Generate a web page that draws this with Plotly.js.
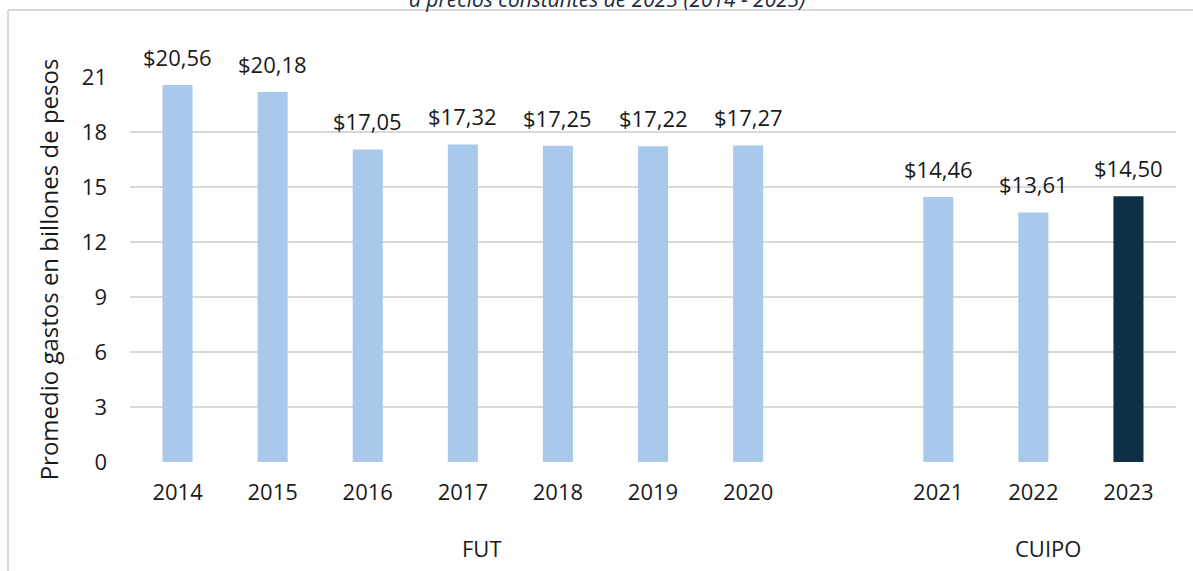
<!DOCTYPE html>
<html>
<head>
<meta charset="utf-8">
<script src="https://cdn.plot.ly/plotly-3.0.1.min.js"></script>
<style>
  html, body { margin: 0; padding: 0; background: #ffffff; }
  #chart { width: 1193px; height: 571px; }
</style>
</head>
<body>
<div id="chart"></div>
<script>
// ---- Data ----
const years = ["2014", "2015", "2016", "2017", "2018", "2019", "2020", "2021", "2022", "2023"];
const slots = [0, 1, 2, 3, 4, 5, 6, 8, 9, 10];          // category slots (slot 7 left empty between groups)
const gasto = [20.56, 20.18, 17.05, 17.32, 17.25, 17.22, 17.27, 14.46, 13.61, 14.50];
const barColors = ["#a8c9eb", "#a8c9eb", "#a8c9eb", "#a8c9eb", "#a8c9eb", "#a8c9eb", "#a8c9eb", "#a8c9eb", "#a8c9eb", "#0e3044"];
const groups = ["FUT", "CUIPO"];
const groupPos = [3.2, 9.15];
const yTicks = [0, 3, 6, 9, 12, 15, 18, 21];

const FONT = "'Open Sans', 'Liberation Sans', Arial, sans-serif";
const fmt = v => "$" + v.toFixed(2).replace(".", ",");

const trace = {
  type: "bar",
  x: slots,
  y: gasto,
  width: 0.316,
  marker: { color: barColors },
  hoverinfo: "skip",
  cliponaxis: false
};

const annotations = [];
gasto.forEach((v, i) => {
  annotations.push({
    x: slots[i], y: v, xref: "x", yref: "y",
    text: fmt(v), showarrow: false,
    yanchor: "bottom", yshift: 11,
    font: { family: FONT, size: 22, color: "#1a1a1a" }
  });
});
groups.forEach((g, i) => {
  annotations.push({
    x: groupPos[i], y: -0.2234, xref: "x", yref: "paper",
    text: g, showarrow: false, yanchor: "middle",
    font: { family: FONT, size: 22, color: "#1a1a1a" }
  });
});
// cut-off title at top
annotations.push({
  x: (607 - 130) / 1046, y: (462 - (-1)) / 385, xref: "paper", yref: "paper",
  text: "<i>a precios constantes de 2023 (2014 - 2023)</i>", showarrow: false,
  yanchor: "middle", xanchor: "center",
  font: { family: FONT, size: 21, color: "#1b2b3c" }
});

const layout = {
  width: 1193,
  height: 571,
  margin: { l: 130, r: 17, t: 77, b: 109 },
  paper_bgcolor: "#ffffff",
  plot_bgcolor: "#ffffff",
  showlegend: false,
  xaxis: {
    range: [-0.5, 10.5],
    tickvals: slots,
    ticktext: years,
    showgrid: false,
    zeroline: false,
    showline: false,
    ticks: "",
    ticklabelstandoff: 15,
    tickfont: { family: FONT, size: 22, color: "#1a1a1a" },
    fixedrange: true
  },
  yaxis: {
    range: [0, 21],
    tickvals: yTicks,
    showgrid: true,
    gridcolor: "#d9d9d9",
    gridwidth: 2,
    zeroline: false,
    showline: false,
    ticks: "",
    ticklabelstandoff: 22,
    tickfont: { family: FONT, size: 22, color: "#1a1a1a" },
    title: { text: "Promedio gastos en billones de pesos", standoff: 16,
             font: { family: FONT, size: 24, color: "#1a1a1a" } },
    fixedrange: true
  },
  annotations: annotations,
  shapes: [
    { type: "line", xref: "paper", yref: "paper",
      x0: (8 - 130) / 1046, x1: (8 - 130) / 1046, y0: (462 - 10) / 385, y1: (462 - 580) / 385,
      line: { color: "#d9d9d9", width: 2 } },
    { type: "line", xref: "paper", yref: "paper",
      x0: (8 - 130) / 1046, x1: (1200 - 130) / 1046, y0: (462 - 10) / 385, y1: (462 - 10) / 385,
      line: { color: "#d9d9d9", width: 2 } }
  ]
};

Plotly.newPlot("chart", [trace], layout, { displayModeBar: false, staticPlot: true });
</script>
</body>
</html>
